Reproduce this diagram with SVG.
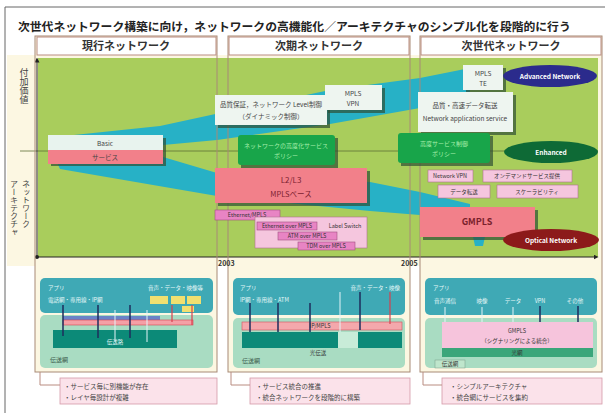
<svg xmlns="http://www.w3.org/2000/svg" width="605" height="413" viewBox="0 0 605 413">
<style>
text{font-family:"Noto Sans CJK JP","Noto Sans",sans-serif;}
.colf{fill:#fcf7e2;stroke:none}
.col{fill:none;stroke:#a88a76;stroke-width:1}
.hdr{fill:#fff;stroke:#b98c80;stroke-width:1}
.ht{font-size:11px;fill:#333;text-anchor:middle;font-weight:bold}
.sh{fill:#2f4f35;opacity:.7}
.wb{fill:#eef5f0}
.gb{fill:#18a54a}
.pk{fill:#f2808a}
.lp{fill:#f5c6de;stroke:#b07090;stroke-width:.6}
.dp{fill:#e884c4;stroke:#a05080;stroke-width:.6}
.band{fill:#27b1c6}
.t6{font-size:6.5px;fill:#444;text-anchor:middle}
.t5{font-size:5.5px;fill:#333;text-anchor:middle}
.tg{font-size:6px;fill:#a6efaa;text-anchor:middle}
.el{font-size:6.5px;fill:#fff;font-weight:bold;text-anchor:middle}
.teal{fill:#3fa9b5}
.lg{fill:#a9dcc2}
.dt{fill:#0c8a78}
.tw{font-size:5.5px;fill:#e6f8f8}
.call{fill:#fbe2ea;stroke:#d49aa8;stroke-width:.8}
.ct{font-size:6.5px;fill:#444}
.dl{stroke:#1e2d5c;stroke-width:1.5}
.rl{stroke:#d8404e;stroke-width:1.2}
.ll{stroke:#e4f4f8;stroke-width:1}
.conn{fill:none;stroke:#b98c80;stroke-width:1}
</style>
<defs>
<marker id="arr" viewBox="0 0 6 6" refX="3" refY="3" markerWidth="5" markerHeight="5" orient="auto"><path d="M0,0 L6,3 L0,6 z" fill="#222"/></marker>
</defs>

<!-- frame -->
<path d="M5,413 V7 H605" fill="none" stroke="#666" stroke-width="1"/>

<!-- title -->
<text x="18" y="31" font-size="11.8" font-weight="bold" fill="#222">次世代ネットワーク構築に向け，ネットワークの高機能化／アーキテクチャのシンプル化を段階的に行う</text>

<!-- column backgrounds -->
<rect x="7" y="55" width="595" height="211" fill="#fcf7e2"/>
<rect class="colf" x="35" y="36" width="182" height="336"/>
<rect class="colf" x="228" y="36" width="182" height="336"/>
<rect class="colf" x="420" y="36" width="182" height="336"/>

<!-- chart area -->
<g id="chart">
<rect x="38" y="58" width="560" height="199" fill="#a9cd5c"/>
<polygon class="band" points="55,137 160,126 220,113 330,90 420,78 470,68 470,94 420,108 330,124 217,140 163,145 55,150"/>
<polygon class="band" points="55,158 163,157 217,173 370,182 420,192 470,204 470,230 420,215 370,211 217,196 60,169"/>
<polygon class="band" points="472,232 486,232 483,246 475,246"/>
<line x1="20" y1="151" x2="598" y2="151" stroke="#5e6e36" stroke-width="0.8"/>
<line x1="37" y1="257" x2="37" y2="60" stroke="#222" stroke-width="1" marker-end="url(#arr)"/>
<line x1="37" y1="257" x2="596" y2="257" stroke="#222" stroke-width="1" marker-end="url(#arr)"/>
<circle cx="37" cy="257" r="2" fill="#222"/>
</g>

<!-- column outlines and headers -->
<rect class="col" x="35" y="36" width="182" height="336"/>
<rect class="col" x="228" y="36" width="182" height="336"/>
<rect class="col" x="420" y="36" width="182" height="336"/>
<g id="hdr1"><rect class="hdr" x="37" y="37" width="179" height="18"/><text class="ht" x="126" y="50">現行ネットワーク</text></g>
<g id="hdr2"><rect class="hdr" x="229" y="37" width="180" height="18"/><text class="ht" x="319" y="50">次期ネットワーク</text></g>
<g id="hdr3"><rect class="hdr" x="421" y="37" width="180" height="18"/><text class="ht" x="511" y="50">次世代ネットワーク</text></g>

<!-- axis labels -->
<text x="24" y="68" font-size="9" fill="#444" style="writing-mode:vertical-rl">付加価値</text>
<text x="26" y="180" font-size="8" fill="#444" style="writing-mode:vertical-rl">ネットワーク</text>
<text x="14" y="180" font-size="8" fill="#444" style="writing-mode:vertical-rl">アーキテクチャ</text>
<text x="218" y="266" font-size="7" font-weight="bold" fill="#333">2003</text>
<text x="401" y="266" font-size="7" font-weight="bold" fill="#333">2005</text>

<!-- current network nodes -->
<g id="basic"><rect class="sh" x="51" y="138" width="115" height="28"/><rect x="48" y="135" width="115" height="15" fill="#e8f3ee"/><text class="t6" x="105" y="146">Basic</text></g>
<g id="service"><rect class="pk" x="48" y="150" width="115" height="14"/><text class="t6" x="105" y="160" fill="#fde">サービス</text></g>

<!-- next network nodes -->
<g id="qos"><rect class="sh" x="218" y="98" width="112" height="30"/><rect class="wb" x="215" y="95" width="112" height="30"/><text class="t6" x="271" y="107">品質保証，ネットワーク Level制御</text><text class="t6" x="271" y="119">（ダイナミック制御）</text></g>
<g id="mplsvpn"><rect class="sh" x="328" y="88" width="57" height="25"/><rect class="wb" x="325" y="85" width="57" height="25"/><text class="t6" x="353" y="96">MPLS</text><text class="t6" x="353" y="106">VPN</text></g>
<g id="green1"><rect class="sh" x="241" y="138" width="97" height="30"/><rect class="gb" x="238" y="135" width="97" height="30" rx="3"/><text class="tg" x="286" y="148">ネットワークの高度化サービス</text><text class="tg" x="286" y="158">ポリシー</text></g>
<g id="l2l3"><rect class="sh" x="218" y="171" width="152" height="35"/><rect class="pk" x="215" y="168" width="152" height="35"/><text x="291" y="183" font-size="8" fill="#7a2030" text-anchor="middle">L2/L3</text><text x="291" y="197" font-size="7.5" fill="#7a2030" text-anchor="middle">MPLSベース</text></g>
<g id="ethmpls"><rect class="dp" x="215" y="210" width="65" height="10"/><text class="t5" x="247" y="217">Ethernet/MPLS</text></g>
<g id="labelsw"><rect class="lp" x="255" y="217" width="112" height="31"/><text class="t5" x="345" y="228">Label Switch</text></g>
<g id="eom"><rect class="dp" x="257" y="222" width="60" height="8"/><text class="t5" x="287" y="228" font-size="5">Ethernet over MPLS</text></g>
<g id="aom"><rect class="dp" x="278" y="232" width="59" height="8"/><text class="t5" x="307" y="238" font-size="5">ATM over MPLS</text></g>
<g id="tom"><rect class="dp" x="298" y="242" width="57" height="8"/><text class="t5" x="326" y="248" font-size="5">TDM over MPLS</text></g>

<!-- next generation nodes -->
<g id="mplste"><rect class="sh" x="466" y="68" width="40" height="25"/><rect class="wb" x="463" y="65" width="40" height="25"/><text class="t6" x="483" y="76">MPLS</text><text class="t6" x="483" y="86">TE</text></g>
<g id="advanced"><ellipse cx="550" cy="76" rx="47" ry="11" fill="#2b2b8c"/><text class="el" x="550" y="79">Advanced Network</text></g>
<g id="hispeed"><rect class="sh" x="421" y="95" width="95" height="40"/><rect class="wb" x="418" y="92" width="95" height="40"/><text class="t6" x="465" y="108" font-size="7">品質・高速データ転送</text><text class="t6" x="465" y="121" font-size="5.8">Network application service</text></g>
<g id="green2"><rect class="sh" x="401" y="136" width="92" height="30"/><rect class="gb" x="398" y="133" width="92" height="30" rx="3"/><text class="tg" x="444" y="146">高度サービス制御</text><text class="tg" x="444" y="156">ポリシー</text></g>
<g id="enhanced"><ellipse cx="551" cy="152" rx="47" ry="11" fill="#0e6a36"/><text class="el" x="551" y="155">Enhanced</text></g>
<g id="nvpn"><rect class="lp" x="428" y="170" width="45" height="12"/><text class="t5" x="450" y="178">Network VPN</text></g>
<g id="ondemand"><rect class="lp" x="483" y="170" width="89" height="12"/><text class="t5" x="527" y="178" font-size="6">オンデマンドサービス提供</text></g>
<g id="datatr"><rect class="lp" x="438" y="185" width="52" height="13"/><text class="t5" x="464" y="194" font-size="6">データ転送</text></g>
<g id="scal"><rect class="lp" x="497" y="185" width="81" height="13"/><text class="t5" x="537" y="194" font-size="6">スケーラビリティ</text></g>
<g id="gmpls"><rect class="sh" x="423" y="210" width="115" height="30"/><rect class="pk" x="420" y="207" width="115" height="30"/><text x="477" y="225" font-size="9" font-weight="bold" fill="#7a1f2c" text-anchor="middle">GMPLS</text></g>
<g id="optical"><ellipse cx="551" cy="240" rx="48" ry="11" fill="#8c1a1a"/><text class="el" x="551" y="243">Optical Network</text></g>

<!-- bottom panel: current -->
<g id="panel1">
<rect class="teal" x="40" y="278" width="173" height="35" rx="5"/>
<rect class="lg" x="40" y="315" width="173" height="53" rx="5"/>
<text class="tw" x="48" y="290">アプリ</text>
<text class="tw" x="203" y="290" text-anchor="end">音声・データ・映像等</text>
<text class="tw" x="48" y="302">電話網・専用線・IP網</text>
<rect x="150" y="296" width="18" height="8" fill="#f0e070"/>
<rect x="171" y="296" width="14" height="8" fill="#f0e070"/>
<rect x="187" y="296" width="14" height="8" fill="#f0e070"/>
<rect x="182" y="306" width="12" height="6" fill="#f0e070"/>
<rect x="63" y="316" width="97" height="4" fill="#6a84c8"/>
<rect x="63" y="320" width="130" height="5" fill="#f4a0a6" stroke="#d8404e" stroke-width=".6"/>
<rect class="dt" x="53" y="330" width="124" height="18"/>
<line class="dl" x1="63" y1="305" x2="63" y2="336"/>
<line class="dl" x1="98" y1="305" x2="98" y2="338"/>
<line class="dl" x1="130" y1="305" x2="130" y2="338"/>
<line class="rl" x1="172" y1="305" x2="172" y2="322"/>
<line class="rl" x1="192" y1="305" x2="192" y2="325"/>
<line class="ll" x1="115" y1="310" x2="115" y2="342"/>
<line class="ll" x1="147" y1="310" x2="147" y2="342"/>
<text class="tw" x="115" y="344" text-anchor="middle">伝送路</text>
<text x="50" y="362" font-size="6" fill="#3a5a4a">伝送網</text>
</g>

<!-- bottom panel: next -->
<g id="panel2">
<rect class="teal" x="233" y="278" width="172" height="37" rx="5"/>
<rect class="lg" x="233" y="318" width="172" height="50" rx="5"/>
<text class="tw" x="240" y="290">アプリ</text>
<text class="tw" x="400" y="290" text-anchor="end">音声・データ・映像</text>
<text class="tw" x="240" y="302">IP網・専用線・ATM</text>
<rect x="242" y="322" width="160" height="8" fill="#f4a8ac" stroke="#d05060" stroke-width=".6"/>
<text class="t5" x="320" y="328" font-size="4.5" fill="#8a2a3a">IP/MPLS</text>
<rect class="dt" x="242" y="332" width="96" height="16"/>
<rect x="338" y="332" width="20" height="16" fill="#c8ecd8"/>
<rect class="dt" x="358" y="332" width="44" height="16"/>
<line class="dl" x1="250" y1="303" x2="250" y2="332"/>
<line class="dl" x1="278" y1="303" x2="278" y2="332"/>
<line class="dl" x1="310" y1="303" x2="310" y2="332"/>
<line class="dl" x1="360" y1="292" x2="360" y2="330"/>
<line class="rl" x1="390" y1="292" x2="390" y2="324"/>
<line class="ll" x1="340" y1="292" x2="340" y2="332"/>
<text class="t5" x="318" y="355" fill="#2a5a4a">光伝送</text>
<text x="242" y="363" font-size="6" fill="#3a5a4a">伝送網</text>
</g>

<!-- bottom panel: next generation -->
<g id="panel3">
<rect class="teal" x="425" y="278" width="172" height="37" rx="5"/>
<rect class="lg" x="425" y="318" width="172" height="50" rx="5"/>
<text class="tw" x="433" y="290">アプリ</text>
<text class="tw" x="445" y="303" text-anchor="middle">音声通信</text>
<text class="tw" x="482" y="303" text-anchor="middle">映像</text>
<text class="tw" x="513" y="303" text-anchor="middle">データ</text>
<text class="tw" x="540" y="303" text-anchor="middle">VPN</text>
<text class="tw" x="575" y="303" text-anchor="middle">その他</text>
<line class="ll" x1="445" y1="307" x2="445" y2="322"/>
<line class="ll" x1="482" y1="307" x2="482" y2="322"/>
<line class="ll" x1="513" y1="307" x2="513" y2="322"/>
<line class="dl" x1="540" y1="306" x2="540" y2="324"/>
<line class="dl" x1="578" y1="306" x2="578" y2="324"/>
<rect x="442" y="322" width="151" height="26" fill="#f6c4dc"/>
<text class="t5" x="517" y="333">GMPLS</text>
<text class="t5" x="517" y="343">（シグナリングによる統合）</text>
<rect x="442" y="348" width="151" height="9" fill="#3aa67a"/>
<text class="t5" x="517" y="355" fill="#eaffef">光網</text>
<rect x="435" y="360" width="30" height="8" fill="#bfe6cc" stroke="#7a9a88" stroke-width=".5"/>
<text class="t5" x="450" y="366" font-size="5">伝送網</text>
</g>

<!-- callouts -->
<g id="callout1"><rect class="call" x="60" y="378" width="157" height="26"/><text class="ct" x="64" y="389">・サービス毎に別機能が存在</text><text class="ct" x="64" y="400">・レイヤ毎設計が複雑</text></g>
<g id="callout2"><rect class="call" x="250" y="378" width="160" height="26"/><text class="ct" x="256" y="389">・サービス統合の推進</text><text class="ct" x="256" y="400">・統合ネットワークを段階的に構築</text></g>
<g id="callout3"><rect class="call" x="442" y="378" width="160" height="26"/><text class="ct" x="450" y="389">・シンプルアーキテクチャ</text><text class="ct" x="450" y="400">・統合網にサービスを集約</text></g>

<g id="connectors">
<path class="conn" d="M40,372 V385 H60"/>
<path class="conn" d="M231,372 V385 H250"/>
<path class="conn" d="M423,372 V385 H442"/>
</g>
</svg>
